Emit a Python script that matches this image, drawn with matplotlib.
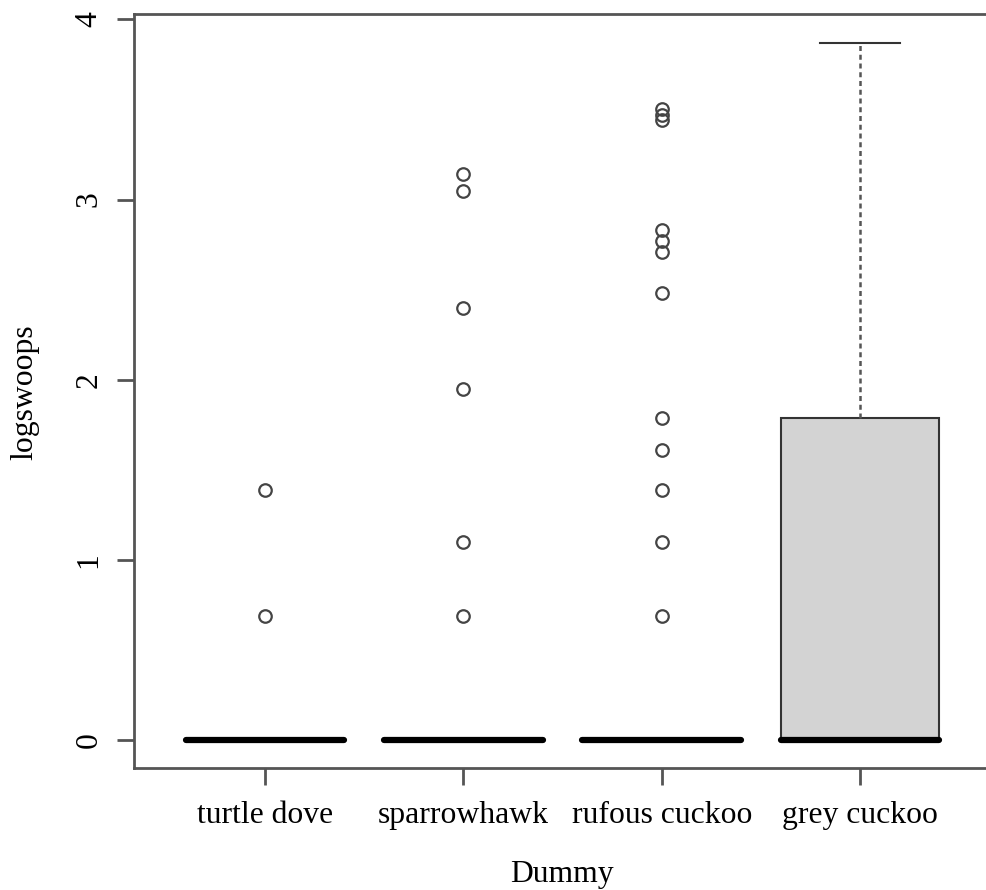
import numpy as np
import matplotlib.pyplot as plt

# groups on the x axis
groups = ["turtle dove", "sparrowhawk", "rufous cuckoo", "grey cuckoo"]

# box statistics
q1 = [0.0, 0.0, 0.0, 0.0]
medians = [0.0, 0.0, 0.0, 0.0]
q3 = [0.0, 0.0, 0.0, 1.79]
whislo = [0.0, 0.0, 0.0, 0.0]
whishi = [0.0, 0.0, 0.0, 3.87]

# outliers
fliers_turtle = [0.69, 1.39]
fliers_sparrow = [0.69, 1.10, 1.95, 2.40, 3.05, 3.14]
fliers_rufous = [0.69, 1.10, 1.39, 1.61, 1.79, 2.48, 2.71, 2.77, 2.83, 3.44, 3.47, 3.50]
fliers_grey = []
fliers = [fliers_turtle, fliers_sparrow, fliers_rufous, fliers_grey]

plt.rcParams['font.family'] = ['Liberation Serif', 'DejaVu Serif']

fig = plt.figure(figsize=(9.87, 8.9), dpi=100)
ax = fig.add_axes([134 / 987, 1 - 768 / 890, (991 - 134) / 987, (768 - 14) / 890])

stats = []
for i in range(len(groups)):
    stats.append(dict(q1=q1[i], med=medians[i], q3=q3[i], whislo=whislo[i],
                      whishi=whishi[i], fliers=fliers[i], label=groups[i]))

ax.bxp(stats, positions=range(1, 5), widths=0.8, patch_artist=True,
       boxprops=dict(facecolor='#d3d3d3', edgecolor='#333333', linewidth=1.5),
       medianprops=dict(color='black', linewidth=4.5, solid_capstyle='round'),
       whiskerprops=dict(color='#555555', linewidth=1.8, linestyle=(0, (2, 1.5))),
       capprops=dict(color='#333333', linewidth=1.5),
       capwidths=0.4,
       flierprops=dict(marker='o', markersize=9, markerfacecolor='none',
                       markeredgecolor='#444444', markeredgewidth=1.6))

ax.set_xlim(0.34, 4.66)
ax.set_ylim(-0.155, 4.03)
ax.set_yticks([0, 1, 2, 3, 4])
ax.set_xticks(range(1, 5))
ax.set_xticklabels(groups)

for sp in ax.spines.values():
    sp.set_color('#555555')
    sp.set_linewidth(2)

ax.tick_params(axis='both', colors='#555555', labelcolor='black', width=2,
               length=12, labelsize=22.8)
ax.tick_params(axis='y', pad=10)
ax.tick_params(axis='x', pad=12)
for lbl in ax.get_yticklabels():
    lbl.set_rotation(90)
    lbl.set_va('center')

fig.text(10 / 987, 1 - 392 / 890, "logswoops", rotation=90, ha='left', va='center',
         fontsize=22.8)
fig.text(562 / 987, 1 - 882 / 890, "Dummy", ha='center', va='baseline', fontsize=22.8)

fig.savefig("out.png", dpi=100)
